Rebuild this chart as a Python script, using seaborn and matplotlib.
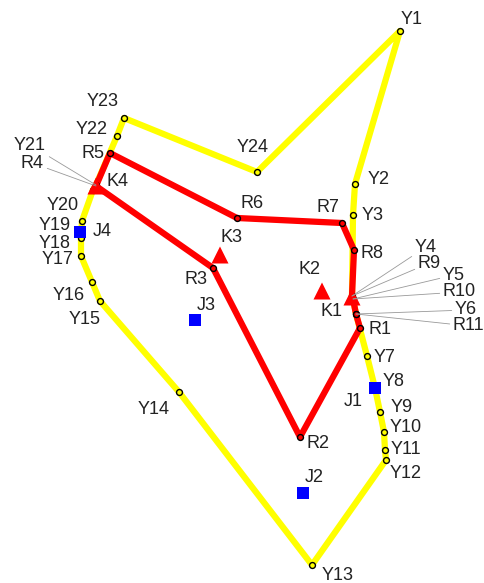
import numpy as np
import pandas as pd
import seaborn as sns
import matplotlib.pyplot as plt

# Yellow route (closed loop Y1..Y24)
y_names = ["Y1", "Y2", "Y3", "Y4", "Y5", "Y6", "Y7", "Y8", "Y9", "Y10", "Y11", "Y12",
           "Y13", "Y14", "Y15", "Y16", "Y17", "Y18", "Y19", "Y20", "Y21", "Y22", "Y23", "Y24"]
y_x = [400, 355, 353, 352, 353, 356, 367, 375, 380, 384, 385, 386,
       312, 179, 100, 92, 81, 81, 82, 93, 96, 117, 124, 257]
y_y = [31, 184, 215, 296, 299, 314, 356, 388, 412, 432, 450, 460,
       565, 392, 301, 282, 256, 238, 221, 190, 185, 136, 118, 172]

# Red route (closed loop R1..R11)
r_names = ["R1", "R2", "R3", "R4", "R5", "R6", "R7", "R8", "R9", "R10", "R11"]
r_x = [360, 300, 213, 96, 110, 237, 342, 354, 352, 353, 356]
r_y = [328, 437, 268, 186, 153, 218, 223, 250, 296, 299, 314]

# K sites (triangles) and J sites (squares)
k_names = ["K1", "K2", "K3", "K4"]
k_x = [352, 322, 220, 96]
k_y = [297, 291, 255, 186]
j_names = ["J1", "J2", "J3", "J4"]
j_x = [375, 303, 195, 80]
j_y = [388, 493, 320, 232]

# label offsets (dx, dy) from the point
offsets = {
    "Y1": (12, -12), "Y2": (24, -5), "Y3": (20, 0), "Y7": (18, 1), "Y8": (19, -7),
    "Y9": (22, -4), "Y10": (22, -4), "Y11": (21, -1), "Y12": (20, 13), "Y13": (26, 10),
    "Y14": (-25, 17), "Y15": (-15, 18), "Y16": (-23, 13), "Y17": (-23, 4),
    "Y18": (-26, 5), "Y19": (-27, 5), "Y20": (-30, 15), "Y22": (-25, -6),
    "Y23": (-21, -17), "Y24": (-4, -24),
    "R1": (20, 2), "R2": (18, 7), "R3": (-17, 12), "R5": (-17, 0), "R6": (15, -14),
    "R7": (-14, -15), "R8": (18, 3),
    "K1": (-20, 15), "K2": (-12, -21), "K3": (12, -17), "K4": (22, -5),
    "J1": (-22, 14), "J2": (11, -15), "J3": (11, -15), "J4": (22, 0),
}
# labels placed away with a leader line: (text x, text y, alignment)
leaders = {
    "Y4": (415, 247, "left"), "R9": (418, 263, "left"), "Y5": (443, 275, "left"),
    "R10": (443, 292, "left"), "Y6": (455, 310, "left"), "R11": (453, 326, "left"),
    "Y21": (46, 145, "right"), "R4": (44, 163, "right"),
}

yellow = pd.DataFrame({"name": y_names, "x": y_x, "y": y_y})
red = pd.DataFrame({"name": r_names, "x": r_x, "y": r_y})
ksites = pd.DataFrame({"name": k_names, "x": k_x, "y": k_y})
jsites = pd.DataFrame({"name": j_names, "x": j_x, "y": j_y})

sns.set_style("white")
plt.rcParams["font.family"] = ["Liberation Sans", "DejaVu Sans"]

fig = plt.figure(figsize=(4.85, 5.83), dpi=100)
ax = fig.add_axes([0, 0, 1, 1])

# closed paths
y_loop = pd.concat([yellow, yellow.iloc[:1]], ignore_index=True)
r_loop = pd.concat([red, red.iloc[:1]], ignore_index=True)
sns.lineplot(data=y_loop, x="x", y="y", sort=False, estimator=None, color="#ffff00",
             lw=4.5, ax=ax, zorder=1)
sns.lineplot(data=r_loop, x="x", y="y", sort=False, estimator=None, color="#ff0000",
             lw=4.5, ax=ax, zorder=2)

sns.scatterplot(data=yellow, x="x", y="y", color="#ffff00", edgecolor="black",
                linewidth=1, s=18, ax=ax, zorder=3)
sns.scatterplot(data=red, x="x", y="y", color="#ff0000", edgecolor="black",
                linewidth=1, s=18, ax=ax, zorder=4)
sns.scatterplot(data=ksites, x="x", y="y", marker="^", color="#ff0000", edgecolor="none",
                s=150, ax=ax, zorder=5)
sns.scatterplot(data=jsites, x="x", y="y", marker="s", color="#0000ff", edgecolor="none",
                s=80, ax=ax, zorder=5)

for df in [yellow, red, ksites, jsites]:
    for _, row in df.iterrows():
        n = row["name"]
        if n in offsets:
            dx, dy = offsets[n]
            ax.text(row["x"] + dx, row["y"] + dy, n, fontsize=13, ha="center",
                    va="center", color="#222222", zorder=6)
        elif n in leaders:
            tx, ty, ha = leaders[n]
            ax.annotate(n, xy=(row["x"], row["y"]), xytext=(tx, ty), fontsize=13,
                        ha=ha, va="center", color="#222222", zorder=6,
                        arrowprops=dict(arrowstyle="-", color="#999999", lw=0.6,
                                        shrinkA=0, shrinkB=0))

ax.set_xlim(0, 485)
ax.set_ylim(583, 0)
ax.set_axis_off()
fig.savefig("out.png", dpi=100)
